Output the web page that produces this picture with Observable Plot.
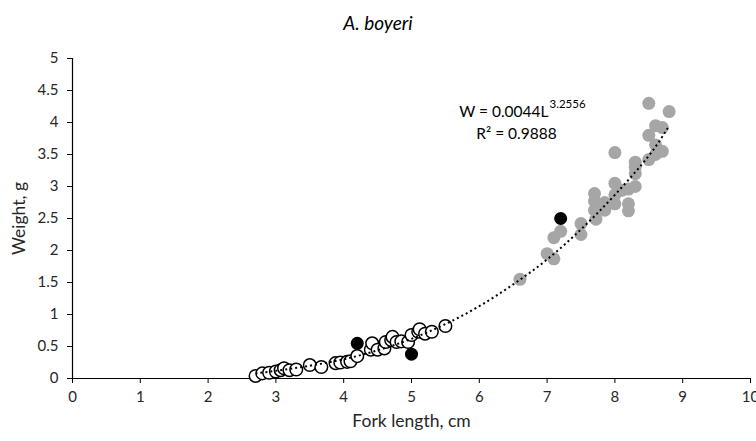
<!DOCTYPE html>
<html>
<head>
<meta charset="utf-8">
<script src="https://cdn.jsdelivr.net/npm/d3@7"></script>
<script src="https://cdn.jsdelivr.net/npm/@observablehq/plot@0.6"></script>
<style>
  html, body { margin: 0; padding: 0; background: #fff; }
  #wrap { width: 756px; height: 441px; overflow: hidden; }
  #title { height: 40px; line-height: 46px; text-align: center; font-family: Lato, "Open Sans", sans-serif; font-style: italic; font-size: 19px; color: #000; }
</style>
</head>
<body>
<div id="wrap">
  <div id="title">A. boyeri</div>
  <div id="chart"></div>
</div>
<script>
// Gray points (larger fish)
const grayL = [6.6, 7.0, 7.1, 7.1, 7.2, 7.5, 7.5, 7.7, 7.7, 7.7, 7.72, 7.85, 7.85, 8.0, 8.0, 8.0, 8.0, 8.1, 8.2, 8.2, 8.2, 8.3, 8.3, 8.3, 8.3, 8.5, 8.5, 8.5, 8.6, 8.6, 8.6, 8.7, 8.7, 8.8];
const grayW = [1.55, 1.95, 1.87, 2.2, 2.3, 2.42, 2.25, 2.89, 2.77, 2.63, 2.49, 2.63, 2.75, 3.53, 3.05, 2.87, 2.73, 2.94, 2.96, 2.73, 2.62, 3.0, 3.2, 3.3, 3.38, 3.42, 3.8, 4.3, 3.95, 3.65, 3.5, 3.92, 3.55, 4.17];
// Open circles (small fish)
const openL = [2.7, 2.8, 2.9, 3.0, 3.07, 3.12, 3.2, 3.3, 3.5, 3.67, 3.88, 3.95, 4.05, 4.1, 4.2, 4.4, 4.42, 4.5, 4.6, 4.62, 4.7, 4.72, 4.78, 4.85, 4.95, 5.0, 5.1, 5.12, 5.2, 5.3, 5.5];
const openW = [0.04, 0.08, 0.09, 0.11, 0.13, 0.16, 0.13, 0.14, 0.21, 0.18, 0.24, 0.25, 0.26, 0.27, 0.35, 0.45, 0.55, 0.45, 0.47, 0.57, 0.6, 0.65, 0.57, 0.58, 0.57, 0.68, 0.73, 0.77, 0.7, 0.73, 0.82];
// Black filled points
const blackL = [4.2, 5.0, 7.2];
const blackW = [0.55, 0.38, 2.5];
// Dotted trend line
const trendL = [2.7, 3, 3.5, 4, 4.5, 5, 5.5, 6, 6.5, 7, 7.5, 8, 8.5, 8.8];
const trendW = [0.08, 0.12, 0.20, 0.30, 0.44, 0.62, 0.85, 1.13, 1.47, 1.86, 2.33, 2.87, 3.48, 3.95];
// Axis ticks and labels
const xTicks = [0, 1, 2, 3, 4, 5, 6, 7, 8, 9, 10];
const yTicks = [0, 0.5, 1, 1.5, 2, 2.5, 3, 3.5, 4, 4.5, 5];
const eqMain = "W = 0.0044L";
const eqExp = "3.2556";
const eqR2 = "R² = 0.9888";

const toRows = (xs, ys) => xs.map((x, i) => ({L: x, W: ys[i]}));
const gray = toRows(grayL, grayW);
const open = toRows(openL, openW);
const black = toRows(blackL, blackW);
const trend = toRows(trendL, trendW);

const font = "Lato, 'Open Sans', sans-serif";
const chart = Plot.plot({
  width: 756,
  height: 401,
  marginLeft: 72,
  marginRight: 6,
  marginTop: 18,
  marginBottom: 63,
  style: {fontFamily: font, fontSize: "15px", color: "#262626", background: "#fff", overflow: "visible"},
  x: {domain: [0, 10]},
  y: {domain: [0, 5]},
  marks: [
    Plot.axisX({ticks: xTicks, tickFormat: d => String(d), tickSize: 5, tickPadding: 8, stroke: "#000", label: null}),
    Plot.axisX({ticks: [], label: "Fork length, cm", labelAnchor: "center", labelOffset: 48, labelArrow: "none", fontSize: 17.5}),
    Plot.axisY({ticks: yTicks, tickFormat: d => String(d), tickSize: 5, tickPadding: 9, stroke: "#000", label: null}),
    Plot.axisY({ticks: [], label: "Weight, g", labelAnchor: "center", labelOffset: 60, labelArrow: "none", fontSize: 17.5}),
    Plot.ruleX([0], {stroke: "#000", strokeWidth: 1.2}),
    Plot.ruleY([0], {stroke: "#000", strokeWidth: 1.2}),
    Plot.dot(gray, {x: "L", y: "W", r: 6.5, fill: "#a6a6a6", stroke: "none"}),
    Plot.dot(open, {x: "L", y: "W", r: 6.3, fill: "#fff", stroke: "#000", strokeWidth: 1.5}),
    Plot.dot(black, {x: "L", y: "W", r: 6.5, fill: "#000", stroke: "none"}),
    Plot.line(trend, {x: "L", y: "W", curve: "natural", stroke: "#000", strokeWidth: 2, strokeDasharray: "2 3", strokeLinecap: "butt"}),
    Plot.text([eqMain], {frameAnchor: "top-left", dx: 476, dy: 47, text: d => d, textAnchor: "end", fill: "#000", fontSize: 15.5}),
    Plot.text([eqExp], {frameAnchor: "top-left", dx: 477, dy: 41, text: d => d, textAnchor: "start", fill: "#000", fontSize: 11.5}),
    Plot.text([eqR2], {frameAnchor: "top-left", dx: 444, dy: 69, text: d => d, textAnchor: "middle", fill: "#000", fontSize: 15.5})
  ]
});
document.getElementById("chart").appendChild(chart);
</script>
</body>
</html>
